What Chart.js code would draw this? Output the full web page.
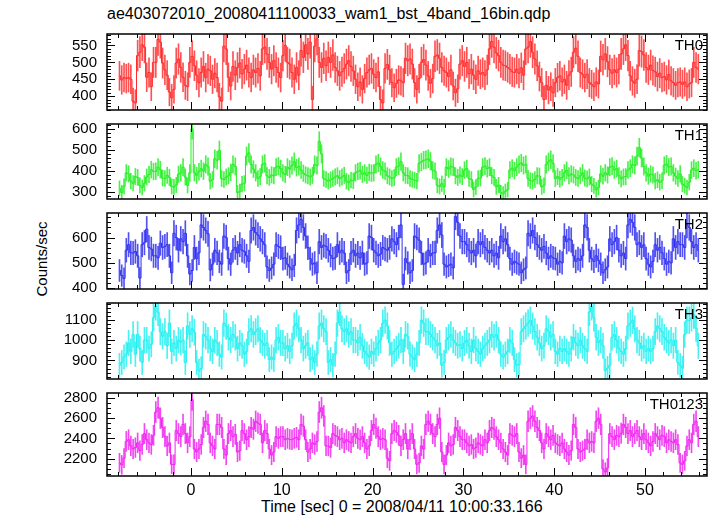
<!DOCTYPE html>
<html>
<head>
<meta charset="utf-8">
<script src="https://cdn.jsdelivr.net/npm/chart.js@4.4.1/dist/chart.umd.min.js"></script>
<style>
    body { margin: 0; background: #fff; }
    #wrap { position: relative; width: 717px; height: 516px; font-family: "Liberation Sans", Arial, sans-serif; color: #000; }
    #wrap canvas { position: absolute; left: 0; }
    #title { position: absolute; left: 107px; top: 6px; font-size: 16px; line-height: 16px; white-space: nowrap; }
    #xlabel { position: absolute; left: 261px; top: 499px; font-size: 16px; line-height: 16px; white-space: nowrap; }
    #ylabel { position: absolute; left: 41px; top: 259px; font-size: 15px; white-space: nowrap;
              transform: translate(-50%, -50%) rotate(-90deg); }
</style>
</head>
<body>
<div id="wrap">
    <div id="title">ae403072010_20080411100033_wam1_bst_4band_16bin.qdp</div>
    <div id="ylabel">Counts/sec</div>
    <div id="xlabel">Time [sec] 0 = 2008/04/11 10:00:33.166</div>
</div>
<script>
// light curve, 0.25 s bins, first bin centre at -7.875 s
const t0 = -7.875;
const binSec = 0.25;

const th0 = [
    460,448,455,452, 455,450,385,380, 520,530,552,545, 456,470,428,500,
    500,568,560,498, 478,462,412,395, 420,498,510,485, 456,432,428,500,
    518,490,462,440, 470,488,455,480, 475,450,468,455, 398,385,548,540,
    456,430,488,462, 485,498,466,480, 492,470,455,478, 470,482,460,540,
    545,525,500,480, 505,485,470,455, 520,550,500,495, 470,450,485,462,
    535,515,552,525, 560,390,548,570, 500,485,512,490, 515,500,522,485,
    475,460,472,482, 495,505,488,475, 450,428,442,420, 452,470,478,482,
    465,455,472,390, 380,482,494,478, 440,425,438,448, 445,440,512,505,
    510,495,440,420, 452,500,508,492, 460,438,452,518, 522,512,485,475,
    470,458,478,430, 410,422,495,505, 488,500,466,480, 462,450,475,465,
    470,462,478,540, 562,545,528,520, 500,492,490,485, 480,472,470,480,
    468,484,462,540, 545,562,530,510, 490,458,440,390, 432,418,428,410,
    440,455,460,442, 450,432,462,472, 530,542,518,470, 465,455,465,440,
    435,428,442,436, 518,508,525,502, 478,468,478,470, 480,525,540,552,
    520,460,445,438, 450,535,532,522, 485,478,492,476, 472,458,468,455,
    458,448,464,445, 440,432,440,442, 435,442,428,436, 440,500,485,480
];

const th1 = [
    316,296,325,390, 385,350,340,372, 368,330,320,340, 370,382,405,396,
    398,417,405,365, 363,378,368,325, 323,332,383,390, 417,370,330,390,
    600,390,378,395, 410,398,430,420, 350,358,457,450, 497,363,358,370,
    376,392,430,420, 296,302,336,340, 470,485,430,408, 390,363,372,430,
    435,376,368,380, 376,417,422,410, 390,382,417,408, 425,443,415,420,
    403,388,380,376, 370,378,430,425, 540,480,363,358, 350,357,363,370,
    376,363,370,378, 350,343,355,352, 390,397,400,383, 390,378,392,388,
    390,430,437,420, 403,398,376,370, 363,367,417,422, 443,390,378,376,
    363,358,355,350, 435,442,450,452, 457,445,403,398, 330,325,338,323,
    417,408,420,417, 376,368,380,372, 403,410,363,358, 310,322,363,365,
    417,422,410,417, 376,368,323,332, 296,290,302,310, 403,412,400,417,
    430,437,425,430, 363,353,350,358, 376,374,323,330, 430,443,452,435,
    363,372,360,368, 390,402,376,385, 380,368,363,376, 390,365,361,370,
    336,328,309,320, 385,374,390,380, 417,422,403,410, 376,361,370,372,
    403,412,430,425, 470,510,460,420, 390,374,385,380, 350,357,345,352,
    425,432,417,420, 390,374,363,385, 336,328,320,345, 403,412,400,405
];

const th2 = [
    470,450,439,550, 572,540,539,545, 528,440,572,580, 633,561,555,528,
    528,520,578,561, 565,572,528,461, 617,600,550,595, 584,617,528,456,
    470,561,517,540, 650,640,628,615, 472,495,550,540, 506,495,606,600,
    517,495,550,561, 539,572,550,545, 528,506,628,640, 620,610,595,584,
    572,484,470,480, 495,572,565,560, 517,520,495,484, 473,490,628,650,
    672,640,606,560, 517,495,500,461, 584,561,570,565, 550,530,517,520,
    572,540,550,539, 461,470,539,550, 528,539,520,540, 495,500,606,600,
    550,540,528,535, 561,555,550,561, 595,584,572,600, 650,415,517,500,
    461,470,606,600, 590,539,495,500, 550,528,539,540, 628,650,610,495,
    484,490,495,480, 683,660,606,584, 584,572,550,539, 550,528,584,572,
    584,561,550,539, 550,528,539,520, 606,584,595,572, 517,495,506,500,
    495,461,473,480, 617,606,628,600, 572,561,550,565, 539,517,528,520,
    517,495,506,500, 606,584,595,590, 528,506,517,510, 528,650,640,550,
    517,506,528,510, 495,461,473,484, 595,572,584,600, 550,528,539,517,
    650,672,660,640, 572,580,561,572, 517,495,484,506, 572,550,561,540,
    517,495,506,500, 595,561,584,572, 572,561,650,640, 584,561,572,550
];

const th3 = [
    876,890,917,931, 987,945,1029,931, 1029,959,890,1001, 1001,959,980,1112,
    1168,1140,1043,1020, 1043,973,1085,945, 987,959,1001,990, 1001,890,1071,1029,
    1057,1040,890,848, 860,1029,1020,1001, 959,945,1001,987, 931,917,1085,1070,
    1015,1001,1029,1015, 959,987,973,931, 945,1043,1057,1029, 1043,1057,1001,987,
    973,987,904,917, 904,1001,1015,987, 987,959,973,945, 973,1071,1085,1057,
    1001,959,973,987, 904,917,890,931, 1071,1085,1057,1043, 890,904,876,931,
    1085,1140,1057,1043, 1057,1029,1043,1001, 1001,987,1015,973, 945,931,917,945,
    931,959,987,1001, 1085,1100,1071,987, 931,945,959,973, 1001,945,1029,1020,
    931,917,904,931, 987,1100,1085,1043, 1043,1029,1015,1001, 973,987,876,890,
    1001,1015,1029,1001, 987,973,980,959, 987,1001,973,945, 1001,959,945,931,
    959,973,987,1001, 1029,1015,1029,1001, 931,917,931,945, 1001,987,904,876,
    880,1043,1057,1071, 1085,1099,1071,1043, 1015,987,959,973, 1057,1043,1015,1029,
    945,931,959,945, 959,945,931,959, 1015,987,973,1001, 973,959,945,1140,
    1168,1112,1015,987, 1001,973,850,862, 876,1015,1029,1001, 959,945,931,959,
    1071,1085,1099,1057, 1001,987,959,973, 945,959,945,959, 1043,1071,1057,1043,
    1015,1001,987,1001, 973,1001,890,876, 862,1029,1100,1099, 1112,1126,1060,973
];

const th0123 = [
    2160,2140,2206,2371, 2387,2326,2296,2310, 2356,2280,2340,2447, 2387,2356,2340,2430,
    2658,2700,2598,2507, 2417,2326,2356,2145, 2145,2477,2447,2417, 2537,2447,2356,2417,
    2780,2296,2266,2296, 2340,2507,2568,2537, 2356,2326,2296,2537, 2537,2507,2296,2236,
    2447,2477,2417,2440, 2266,2280,2477,2447, 2387,2417,2507,2490, 2568,2550,2537,2356,
    2477,2447,2296,2236, 2266,2417,2400,2417, 2417,2387,2400,2390, 2387,2400,2410,2387,
    2537,2520,2387,2266, 2296,2356,2340,2370, 2658,2700,2620,2326, 2326,2310,2447,2430,
    2417,2387,2400,2356, 2387,2370,2356,2417, 2447,2400,2387,2417, 2356,2296,2326,2477,
    2537,2500,2417,2387, 2400,2387,2206,2180, 2447,2477,2460,2430, 2326,2387,2447,2296,
    2387,2447,2296,2145, 2160,2326,2296,2537, 2568,2537,2447,2417, 2537,2598,2266,2145,
    2236,2356,2326,2340, 2507,2477,2417,2387, 2387,2356,2326,2340, 2296,2310,2356,2340,
    2326,2387,2356,2477, 2507,2490,2417,2387, 2356,2296,2266,2236, 2447,2430,2417,2447,
    2266,2206,2236,2145, 2568,2598,2620,2568, 2507,2477,2356,2296, 2447,2417,2387,2430,
    2356,2340,2326,2356, 2296,2266,2236,2280, 2537,2507,2296,2266, 2280,2296,2387,2356,
    2370,2356,2568,2598, 2537,2100,2070,2110, 2447,2417,2387,2430, 2417,2450,2537,2507,
    2447,2477,2417,2447, 2477,2417,2387,2447, 2387,2356,2326,2370, 2447,2417,2387,2430,
    2417,2356,2387,2370, 2356,2387,2340,2160, 2145,2180,2326,2387, 2356,2537,2568,2417
];

const panelNames = ['TH0', 'TH1', 'TH2', 'TH3', 'TH0123'];
const panelSeries = [th0, th1, th2, th3, th0123];
// labelled y ticks of each panel
const yTickLabels = [
    [400, 450, 500, 550],
    [300, 400, 500, 600],
    [400, 500, 600],
    [900, 1000, 1100],
    [2200, 2400, 2600, 2800]
];
const xTickLabels = [0, 10, 20, 30, 40, 50];
const yMins = [359, 265, 397, 808, 2031];
const yMaxs = [584, 623, 697, 1185, 2845];
const yMajor = [50, 100, 100, 100, 200];
const yMinor = [10, 20, 20, 20, 50];
const xMin = -9.25, xMax = 56.83;

const lineColors = ['#ff2a2a', '#22ee22', '#2f2ff0', '#22f0f0', '#f022f0'];
const barColors = ['rgba(255,50,50,0.85)', 'rgba(40,240,40,0.85)', 'rgba(50,50,240,0.85)',
                   'rgba(40,240,240,0.85)', 'rgba(240,40,240,0.85)'];

// chart area edges of each panel, in page pixels
const areaTop = [27, 117, 206, 296, 386];
const areaBottom = [117, 206, 296, 386, 476];
const pad = 12;

Chart.defaults.font.family = '"Liberation Sans", Arial, sans-serif';
Chart.defaults.font.size = 15;
Chart.defaults.color = '#000';

// qdp style frame with inward ticks on all four sides
const qdpFrame = {
    id: 'qdpFrame',
    afterDraw(chart, args, o) {
        const {ctx, chartArea: a, scales: {x, y}} = chart;
        ctx.save();
        ctx.strokeStyle = '#000';
        ctx.lineWidth = 1;
        ctx.beginPath();
        for (let k = Math.ceil(xMin / o.xMinor); k * o.xMinor <= xMax; k++) {
            const v = k * o.xMinor;
            const len = (v % o.xMajor === 0) ? 8 : 4;
            const px = Math.round(x.getPixelForValue(v)) + 0.5;
            ctx.moveTo(px, a.top); ctx.lineTo(px, a.top + len);
            ctx.moveTo(px, a.bottom); ctx.lineTo(px, a.bottom - len);
        }
        for (let k = Math.ceil(y.min / o.yMinor); k * o.yMinor <= y.max; k++) {
            const v = k * o.yMinor;
            const len = (v % o.yMajor === 0) ? 8 : 4;
            const py = Math.round(y.getPixelForValue(v)) + 0.5;
            ctx.moveTo(a.left, py); ctx.lineTo(a.left + len, py);
            ctx.moveTo(a.right, py); ctx.lineTo(a.right - len, py);
        }
        ctx.stroke();
        ctx.lineWidth = 1.5;
        ctx.strokeRect(a.left, a.top, a.right - a.left, a.bottom - a.top);
        ctx.fillStyle = '#000';
        ctx.font = '15px "Liberation Sans", Arial, sans-serif';
        ctx.textAlign = 'right';
        ctx.textBaseline = 'alphabetic';
        ctx.fillText(o.label, a.right - 4, a.top + 16);
        ctx.restore();
    }
};

const wrap = document.getElementById('wrap');

panelSeries.forEach(function(values, p) {
    const last = p === panelSeries.length - 1;
    const canvas = document.createElement('canvas');
    const top = areaTop[p] - pad;
    const height = last ? 516 - top : (areaBottom[p] - areaTop[p]) + 2 * pad;
    canvas.width = 717;
    canvas.height = height;
    canvas.style.top = top + 'px';
    wrap.appendChild(canvas);

    const times = values.map((_, i) => t0 + i * binSec);
    const errBars = values.map((v, i) => {
        const e = Math.sqrt(v / binSec);
        return {x: times[i], y: [v - e, v + e]};
    });
    const points = values.map((v, i) => ({x: times[i], y: v}));

    new Chart(canvas.getContext('2d'), {
        type: 'bar',
        data: {
            datasets: [{
                type: 'line',
                data: points,
                borderColor: lineColors[p],
                borderWidth: 1,
                pointRadius: 0,
                stepped: 'middle',
                fill: false,
                order: 1
            }, {
                type: 'bar',
                data: errBars,
                backgroundColor: barColors[p],
                borderWidth: 0,
                barThickness: 1,
                order: 2
            }]
        },
        options: {
            responsive: false,
            animation: false,
            events: [],
            layout: { padding: { top: pad, right: 10, bottom: last ? 0 : pad, left: 0 } },
            plugins: {
                legend: { display: false },
                tooltip: { enabled: false },
                qdpFrame: { label: panelNames[p], xMajor: 10, xMinor: 2, yMajor: yMajor[p], yMinor: yMinor[p] }
            },
            scales: {
                x: {
                    type: 'linear',
                    min: xMin,
                    max: xMax,
                    offset: false,
                    display: last,
                    grid: { display: false, drawTicks: false },
                    border: { display: false },
                    ticks: { padding: 5, maxRotation: 0, autoSkip: false, font: { size: 16 },
                             callback: v => String(v) },
                    afterBuildTicks: function(scale) {
                        scale.ticks = xTickLabels.map(v => ({value: v}));
                    },
                    afterFit: function(scale) { if (last) scale.height = 40; }
                },
                y: {
                    type: 'linear',
                    min: yMins[p],
                    max: yMaxs[p],
                    grid: { display: false, drawTicks: false },
                    border: { display: false },
                    ticks: { padding: 10, autoSkip: false, callback: v => String(v) },
                    afterBuildTicks: function(scale) {
                        scale.ticks = yTickLabels[p].map(v => ({value: v}));
                    },
                    afterFit: function(scale) { scale.width = 107; }
                }
            }
        },
        plugins: [qdpFrame]
    });
});
</script>
</body>
</html>
